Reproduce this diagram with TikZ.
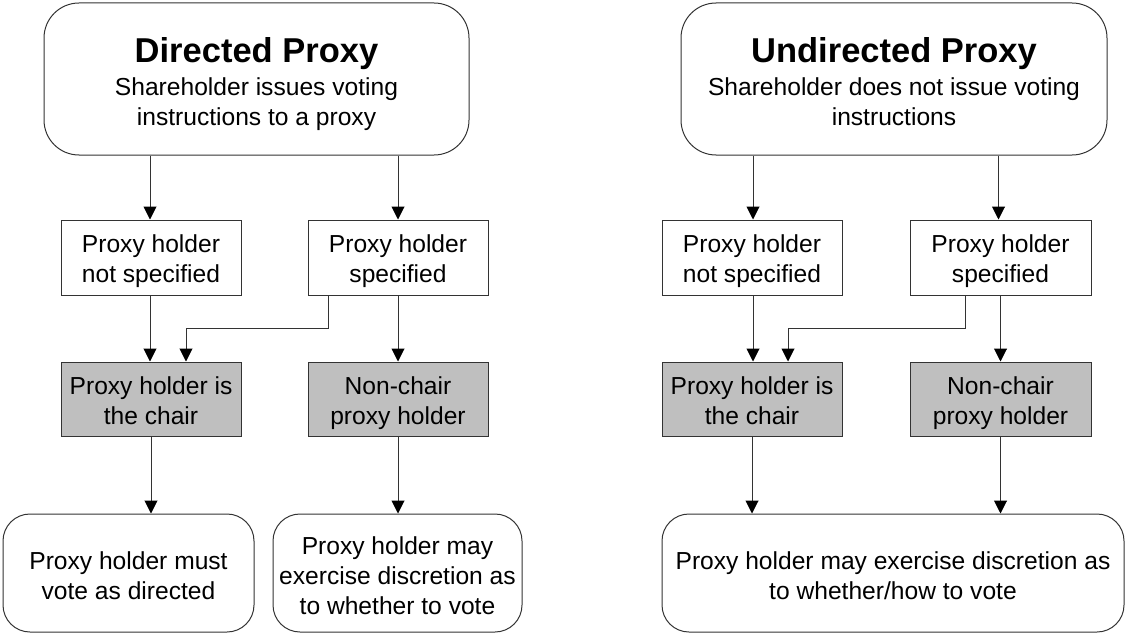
\documentclass[tikz,border=0pt]{standalone}
\usepackage{fontspec}
\setmainfont{Liberation Sans}
\usetikzlibrary{arrows.meta}
\newcommand{\hsa}{\rule{0pt}{26.5pt}}
\newcommand{\hsb}{\rule{0pt}{29.5pt}}
\newcommand{\hst}{\rule{0pt}{35pt}}
\newcommand{\dsx}{\rule[-6pt]{0pt}{6pt}}
\begin{document}
\begin{tikzpicture}[x=1pt,y=1pt,
  base/.style={draw=black!80, line width=1pt, inner sep=0pt, align=center,
    font=\fontsize{24.6}{30}\selectfont},
  topbox/.style={base, rounded corners=35pt, minimum height=152pt},
  rectbox/.style={base, minimum width=180pt, minimum height=75pt},
  greybox/.style={rectbox, fill=black!25, minimum height=74pt},
  endbox/.style={base, rounded corners=27pt, minimum height=118pt},
  arr/.style={draw=black!80, line width=1pt,
    -{Triangle[length=13pt,width=13pt,color=black]}}
]
\useasboundingbox (0,0) rectangle (1125,-634);

% ---------- Left: Directed proxy ----------
\node[topbox, minimum width=425pt] (topL) at (256.5,-79)
  {\hst{\fontsize{34.5}{33}\selectfont\bfseries Directed Proxy}\\[3pt]
   Shareholder issues voting\\ instructions to a proxy\dsx};
\node[rectbox] (nsL) at (151,-257.5) {\hsa Proxy holder\\ not specified\dsx};
\node[rectbox] (spL) at (398,-257.5) {\hsa Proxy holder\\ specified\dsx};
\node[greybox] (chL) at (151,-399) {\hsa Proxy holder is\\ the chair\dsx};
\node[greybox] (ncL) at (398,-399) {\hsa Non-chair\\ proxy holder\dsx};
\node[endbox, minimum width=251pt] (mustL) at (128.5,-573)
  {\hsb Proxy holder must\\ vote as directed\dsx};
\node[endbox, minimum width=249pt] (mayL) at (397.5,-573)
  {\hsb Proxy holder may\\ exercise discretion as\\ to whether to vote\dsx};

\draw[arr] ([xshift=-1pt]nsL.north |- topL.south) -- ([xshift=-1pt]nsL.north);
\draw[arr] (spL.north |- topL.south) -- (spL.north);
\draw[arr] ([xshift=-1pt]nsL.south) -- ([xshift=-1pt]chL.north);
\draw[arr] (spL.south) -- (ncL.north);
\draw[arr] ([xshift=-70pt]spL.south) -- ++(0,-33) -| ([xshift=35pt]chL.north);
\draw[arr] (chL.south) -- (chL.south |- mustL.north);
\draw[arr] (ncL.south) -- (ncL.south |- mayL.north);

% ---------- Right: Undirected proxy ----------
\node[topbox, minimum width=426pt] (topR) at (894,-79)
  {\hst{\fontsize{34.5}{33}\selectfont\bfseries Undirected Proxy}\\[3pt]
   Shareholder does not issue voting\\ instructions\dsx};
\node[rectbox] (nsR) at (752,-257.5) {\hsa Proxy holder\\ not specified\dsx};
\node[rectbox, minimum width=181pt] (spR) at (1000.5,-257.5) {\hsa Proxy holder\\ specified\dsx};
\node[greybox] (chR) at (752,-399) {\hsa Proxy holder is\\ the chair\dsx};
\node[greybox, minimum width=181pt] (ncR) at (1000.5,-399) {\hsa Non-chair\\ proxy holder\dsx};
\node[endbox, minimum width=462pt] (mayR) at (893,-573)
  {\hsb Proxy holder may exercise discretion as\\ to whether/how to vote\dsx};

\draw[arr] ([xshift=1pt]nsR.north |- topR.south) -- ([xshift=1pt]nsR.north);
\draw[arr] ([xshift=-2pt]spR.north |- topR.south) -- ([xshift=-2pt]spR.north);
\draw[arr] ([xshift=1pt]nsR.south) -- ([xshift=1pt]chR.north);
\draw[arr] (spR.south) -- (ncR.north);
\draw[arr] ([xshift=-35.5pt]spR.south) -- ++(0,-33) -| ([xshift=36pt]chR.north);
\draw[arr] (chR.south) -- (chR.south |- mayR.north);
\draw[arr] (ncR.south) -- (ncR.south |- mayR.north);
\end{tikzpicture}
\end{document}
